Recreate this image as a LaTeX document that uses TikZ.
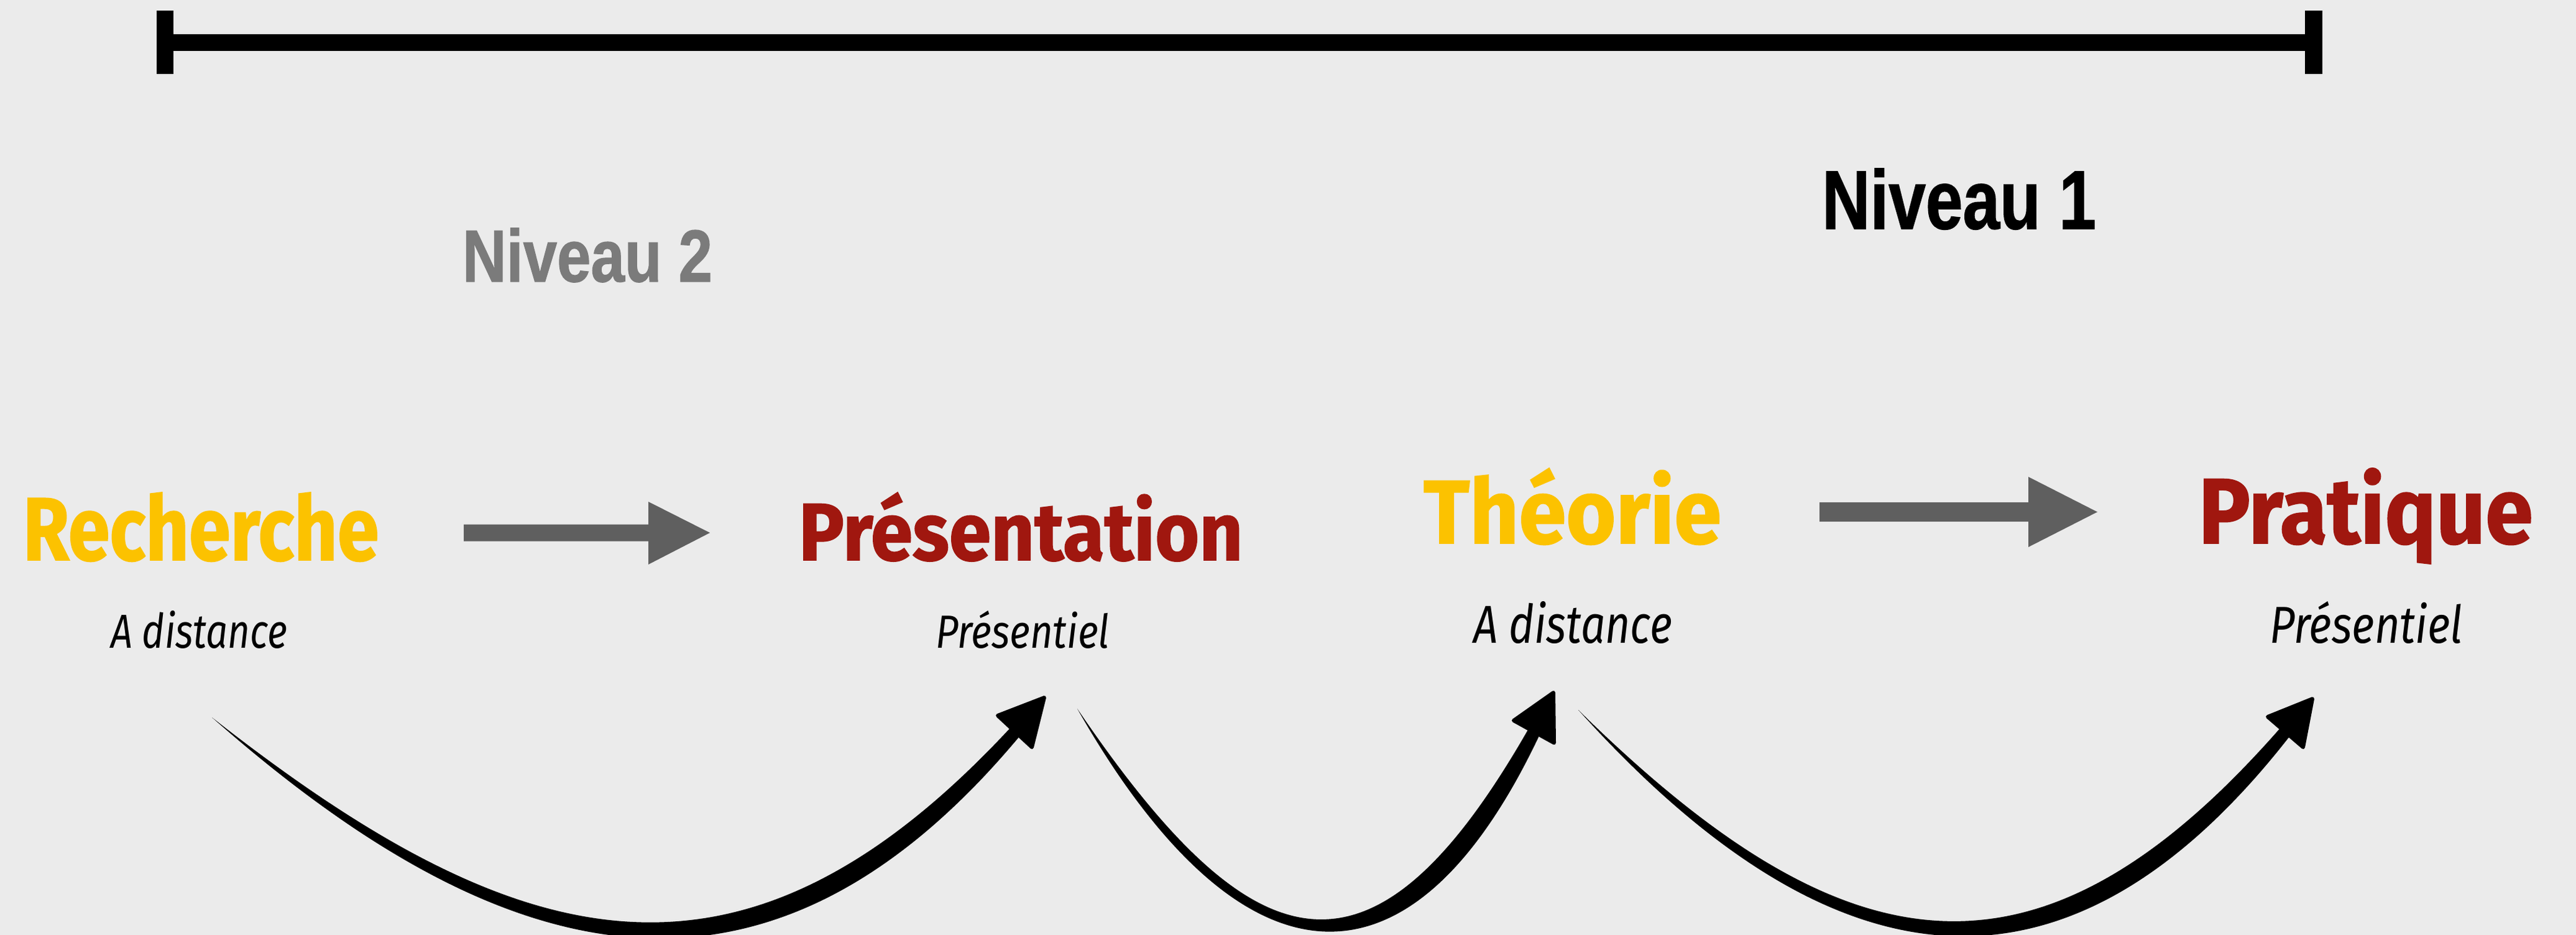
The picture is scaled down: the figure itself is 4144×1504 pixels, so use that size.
\documentclass[tikz,border=0pt]{standalone}
\usepackage{fontspec}
\usetikzlibrary{calc}
\newfontfamily\headfont{Fira Sans}
\newfontfamily\heavyfont{Fira Sans}[BoldFeatures={FakeBold=1.2}]
\newfontfamily\nivfont{Liberation Sans}[BoldFeatures={FakeBold=1.2}]
\definecolor{bg}{HTML}{EBEBEB}
\definecolor{jaune}{HTML}{FCC200}
\definecolor{rouge}{HTML}{A0170F}
\definecolor{gris}{HTML}{7B7B7B}
\definecolor{fleche}{HTML}{5F5F5F}
\begin{document}
\begin{tikzpicture}[x=1pt,y=1pt,
  txt/.style={inner sep=0pt, outer sep=0pt, anchor=base west},
  blockarrow/.style={fill=fleche},
  brushfill/.style={fill=black},
  brushhead/.style={fill=black, draw=black, line width=6pt, line join=round}]
\fill[bg] (0,0) rectangle (4144,-1504);
\useasboundingbox (0,0) rectangle (4144,-1504);

% top bar
\fill (252,-17) rectangle (279,-119);
\fill (279,-55) rectangle (3708,-82);
\fill (3708,-17) rectangle (3736,-119);

% level labels
\node[txt,text=gris] (niv2) at (744,-453) {\resizebox{402pt}{86pt}{\nivfont\bfseries Niveau 2}};
\node[txt,text=black] (niv1) at (2931,-368) {\resizebox{441pt}{97pt}{\nivfont\bfseries Niveau 1}};

% main words
\node[txt,text=jaune] (rech) at (37,-901) {\resizebox{572pt}{109pt}{\heavyfont\bfseries Recherche}};
\node[txt,text=rouge] (pres) at (1285,-901) {\resizebox{714pt}{109pt}{\heavyfont\bfseries Présentation}};
\node[txt,text=jaune] (theo) at (2290,-874) {\resizebox{479pt}{121pt}{\heavyfont\bfseries Théorie}};
\node[txt,text=rouge] (prat) at (3537,-874) {\resizebox{537pt}{121pt}{\heavyfont\bfseries Pratique}};

% subtitles
\node[txt] (sub1) at (178,-1042) {\resizebox{284pt}{60pt}{\headfont\itshape A distance}};
\node[txt] (sub2) at (1505,-1042) {\resizebox{280pt}{60pt}{\headfont\itshape Présentiel}};
\node[txt] (sub3) at (2370,-1034) {\resizebox{320pt}{67pt}{\headfont\itshape A distance}};
\node[txt] (sub4) at (3651,-1034) {\resizebox{311pt}{67pt}{\headfont\itshape Présentiel}};

% grey block arrows
\fill[blockarrow] (746,-843.5) -- (1043,-843.5) -- (1043,-807) -- (1142,-857)
  -- (1043,-908) -- (1043,-870.5) -- (746,-870.5) -- cycle;
\fill[blockarrow] (2927,-808) -- (3263,-808) -- (3263,-767) -- (3374,-823.5)
  -- (3263,-880) -- (3263,-839) -- (2927,-839) -- cycle;

% brush arrow 1 : sub1 -> sub2
\coordinate (s1) at (341,-1154);
\coordinate (c1a) at (829,-1560);
\coordinate (c1b) at (1217,-1651);
\coordinate (b1) at (1635,-1175);
\fill[brushfill] (s1) .. controls ($(c1a)!18pt!90:(s1)$) and ($(c1b)!27pt!-90:(b1)$) .. ($(b1)!10pt!90:(c1b)$)
  -- ($(b1)!10pt!-90:(c1b)$) .. controls ($(c1b)!27pt!90:(b1)$) and ($(c1a)!18pt!-90:(s1)$) .. (s1) -- cycle;
\coordinate (t1) at (1680,-1122);
\coordinate (l1) at (1605,-1151);
\coordinate (r1) at (1660,-1202);
\filldraw[brushhead] (t1) -- (l1) -- (r1) -- cycle;

% brush arrow 2 : sub2 -> sub3
\coordinate (s2) at (1733,-1140);
\coordinate (c2a) at (2002,-1572);
\coordinate (c2b) at (2236,-1625);
\coordinate (b2) at (2470,-1173);
\fill[brushfill] (s2) .. controls ($(c2a)!20pt!90:(s2)$) and ($(c2b)!30pt!-90:(b2)$) .. ($(b2)!10pt!90:(c2b)$)
  -- ($(b2)!10pt!-90:(c2b)$) .. controls ($(c2b)!30pt!90:(b2)$) and ($(c2a)!20pt!-90:(s2)$) .. (s2) -- cycle;
\coordinate (t2) at (2499,-1114);
\coordinate (l2) at (2435,-1159);
\coordinate (r2) at (2500,-1195);
\filldraw[brushhead] (t2) -- (l2) -- (r2) -- cycle;

% brush arrow 3 : sub3 -> sub4
\coordinate (s3) at (2539,-1142);
\coordinate (c3a) at (2952,-1573);
\coordinate (c3b) at (3298,-1636);
\coordinate (b3) at (3678,-1175);
\fill[brushfill] (s3) .. controls ($(c3a)!18pt!90:(s3)$) and ($(c3b)!27pt!-90:(b3)$) .. ($(b3)!10pt!90:(c3b)$)
  -- ($(b3)!10pt!-90:(c3b)$) .. controls ($(c3b)!27pt!90:(b3)$) and ($(c3a)!18pt!-90:(s3)$) .. (s3) -- cycle;
\coordinate (t3) at (3720,-1124);
\coordinate (l3) at (3648,-1153);
\coordinate (r3) at (3705,-1202);
\filldraw[brushhead] (t3) -- (l3) -- (r3) -- cycle;
\end{tikzpicture}
\end{document}
